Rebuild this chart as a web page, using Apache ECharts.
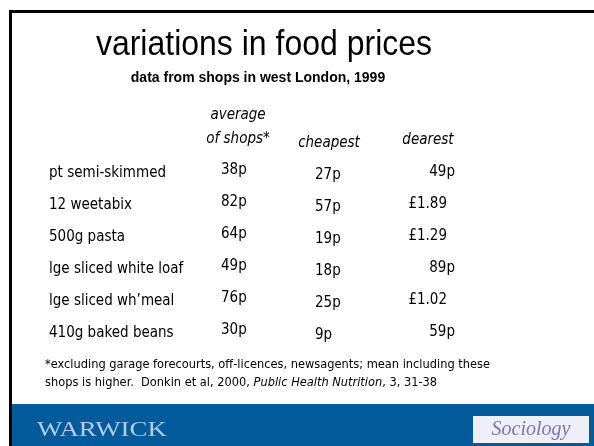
<!DOCTYPE html>
<html>
<head>
<meta charset="utf-8">
<script src="https://cdn.jsdelivr.net/npm/echarts@6/dist/echarts.min.js"></script>
<style>
  html, body { margin: 0; padding: 0; background: #fff; }
  #chart { width: 594px; height: 446px; }
</style>
</head>
<body>
<div id="chart"></div>
<script>
// food items (rows) and price columns
const items = ['pt semi-skimmed', '12 weetabix', '500g pasta', 'lge sliced white loaf', 'lge sliced wh\u2019meal', '410g baked beans'];
const columns = ['average\nof shops*', 'cheapest', 'dearest'];
// prices in pence
const averagePrices = [38, 82, 64, 49, 76, 30];
const cheapestPrices = [27, 57, 19, 18, 25, 9];
const dearestPrices = [49, 189, 129, 89, 102, 59];

const bodyFont = '"DejaVu Sans Condensed", "DejaVu Sans", sans-serif';

// 38 -> "38p", 189 -> "£1.89"
function fmtPrice(p) {
  return p < 100 ? p + 'p' : '\u00a3' + (p / 100).toFixed(2);
}

const chart = echarts.init(document.getElementById('chart'));

function priceSeries(colIdx, prices, labelOpt) {
  return {
    type: 'scatter',
    symbolSize: 0,
    silent: true,
    itemStyle: { opacity: 1 },
    data: prices.map((p, i) => ({
      value: [colIdx, i, p],
      label: p >= 100 && labelOpt.poundShift ? { offset: [labelOpt.offset[0] + labelOpt.poundShift, labelOpt.offset[1]] } : undefined,
    })),
    label: {
      show: true,
      position: 'inside',
      align: labelOpt.align,
      offset: labelOpt.offset,
      color: '#000',
      opacity: 1,
      fontFamily: bodyFont,
      fontSize: 15,
      formatter: (d) => fmtPrice(d.value[2]),
    },
  };
}

const option = {
  backgroundColor: '#fff',
  animation: false,
  grid: { left: 185, right: 109, top: 157, bottom: 97 },
  xAxis: {
    type: 'category',
    position: 'top',
    data: columns,
    axisLine: { show: false },
    axisTick: { show: false },
    splitLine: { show: false },
    axisLabel: {
      margin: 4,
      interval: 0,
      formatter: (v, i) => ['{a|', '{c|', '{d|'][i] + v + '}',
      rich: {
        a: { fontFamily: bodyFont, fontStyle: 'italic', fontSize: 15, color: '#000', lineHeight: 24, padding: [0, 0, 3, 6] },
        c: { fontFamily: bodyFont, fontStyle: 'italic', fontSize: 15, color: '#000', lineHeight: 20, padding: [0, 12, 0, 0] },
        d: { fontFamily: bodyFont, fontStyle: 'italic', fontSize: 15, color: '#000', lineHeight: 20, padding: [0, 14, 6, 0] },
      },
    },
  },
  yAxis: {
    type: 'category',
    inverse: true,
    data: items,
    axisLine: { show: false },
    axisTick: { show: false },
    splitLine: { show: false },
    axisLabel: {
      align: 'left',
      margin: 136,
      color: '#000',
      fontFamily: bodyFont,
      fontSize: 15,
    },
  },
  series: [
    priceSeries(0, averagePrices, { align: 'left', offset: [-14, -3] }),
    priceSeries(1, cheapestPrices, { align: 'left', offset: [-20, 2] }),
    priceSeries(2, dearestPrices, { align: 'right', offset: [20, -1], poundShift: -8 }),
  ],
  graphic: [
    // slide frame
    { type: 'rect', shape: { x: 9, y: 10, width: 585, height: 3 }, style: { fill: '#000' } },
    { type: 'rect', shape: { x: 9, y: 10, width: 3, height: 436 }, style: { fill: '#000' } },
    // footer band
    { type: 'rect', shape: { x: 12, y: 404, width: 582, height: 42 }, style: { fill: '#045b9b' } },
    {
      type: 'text', x: 37, y: 430, scaleX: 1.28,
      style: { text: 'WARWICK', fill: '#b4cce6', font: '21px "Liberation Serif", serif', verticalAlign: 'middle' },
    },
    { type: 'rect', shape: { x: 473, y: 416, width: 116, height: 27 }, style: { fill: '#eef0f8' } },
    {
      type: 'text', x: 531, y: 430,
      style: { text: 'Sociology', fill: '#7a74b8', font: 'italic 20px "Liberation Serif", serif', align: 'center', verticalAlign: 'middle' },
    },
    // titles
    {
      type: 'text', x: 264, y: 45, scaleY: 1.08,
      style: { text: 'variations in food prices', fill: '#000', font: '32px "Liberation Sans", Arial, sans-serif', align: 'center', verticalAlign: 'middle' },
    },
    {
      type: 'text', x: 258, y: 78,
      style: { text: 'data from shops in west London, 1999', fill: '#000', font: 'bold 14px "Liberation Sans", Arial, sans-serif', align: 'center', verticalAlign: 'middle' },
    },
    // footnote
    {
      type: 'text', x: 45, y: 365,
      style: { text: '*excluding garage forecourts, off-licences, newsagents; mean including these', fill: '#000', font: '12.7px ' + bodyFont, verticalAlign: 'middle' },
    },
    {
      type: 'text', x: 45, y: 383,
      style: {
        text: '{n|shops is higher.  Donkin et al, 2000, }{i|Public Health Nutrition}{n|, 3, 31-38}',
        verticalAlign: 'middle',
        rich: {
          n: { fill: '#000', fontFamily: bodyFont, fontSize: 12.7 },
          i: { fill: '#000', fontFamily: bodyFont, fontSize: 12.7, fontStyle: 'italic' },
        },
      },
    },
  ],
};

chart.setOption(option);
</script>
</body>
</html>
